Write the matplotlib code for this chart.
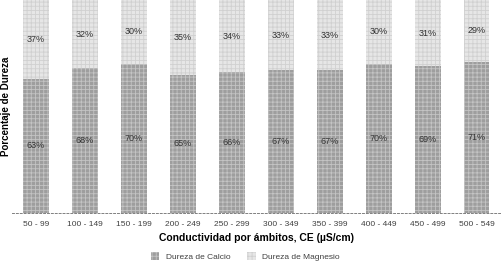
import matplotlib
matplotlib.use("Agg")
import matplotlib.pyplot as plt
import numpy as np

plt.rcParams['font.family'] = ['Liberation Sans', 'DejaVu Sans']
plt.rcParams['hatch.linewidth'] = 0.6

rangos = ['50 - 99', '100 - 149', '150 - 199', '200 - 249', '250 - 299',
          '300 - 349', '350 - 399', '400 - 449', '450 - 499', '500 - 549']
calcio = [63, 68, 70, 65, 66, 67, 67, 70, 69, 71]
magnesio = [37, 32, 30, 35, 34, 33, 33, 30, 31, 29]

fig = plt.figure(figsize=(5.01, 2.62), dpi=100)
ax = fig.add_axes([0.023, 0.187, 0.977, 0.813])

x = np.arange(len(rangos))
width = 0.53

b1 = ax.bar(x, calcio, width, color='#9e9e9e', edgecolor='#c4c4c4',
            hatch='++++', linewidth=0, label='Dureza de Calcio')
b2 = ax.bar(x, magnesio, width, bottom=calcio, color='#e6e6e6', edgecolor='#d0d0d0',
            hatch='++++', linewidth=0, label='Dureza de Magnesio')

for i in range(len(rangos)):
    ax.text(x[i], calcio[i] / 2, str(calcio[i]) + '%', ha='center', va='center',
            fontsize=6.5, color='#333333')
    ax.text(x[i], calcio[i] + magnesio[i] / 2, str(magnesio[i]) + '%', ha='center',
            va='center', fontsize=6.5, color='#333333')

ax.set_xlim(-0.5, 9.5)
ax.set_ylim(0, 100)
ax.set_xticks(x)
ax.set_xticklabels(rangos, fontsize=6, color='#404040')
ax.tick_params(axis='x', length=0, pad=6)
ax.set_yticks([])
for s in ['top', 'right', 'left']:
    ax.spines[s].set_visible(False)
ax.spines['bottom'].set_linestyle((0, (2, 2)))
ax.spines['bottom'].set_color('#808080')
ax.spines['bottom'].set_linewidth(0.7)

ax.set_xlabel('Conductividad por ámbitos, CE (µS/cm)', fontsize=7.5,
              fontweight='bold', labelpad=3)
ax.set_ylabel('Porcentaje de Dureza', fontsize=7, fontweight='bold')
ax.yaxis.set_label_coords(-0.002, 0.5)

fig.legend(handles=[b1, b2], loc='lower center', bbox_to_anchor=(0.49, -0.025),
           ncol=2, frameon=False, fontsize=6, handlelength=1.0, handleheight=1.0,
           columnspacing=2.0, labelcolor='#404040')

fig.savefig('out.png', dpi=100)
